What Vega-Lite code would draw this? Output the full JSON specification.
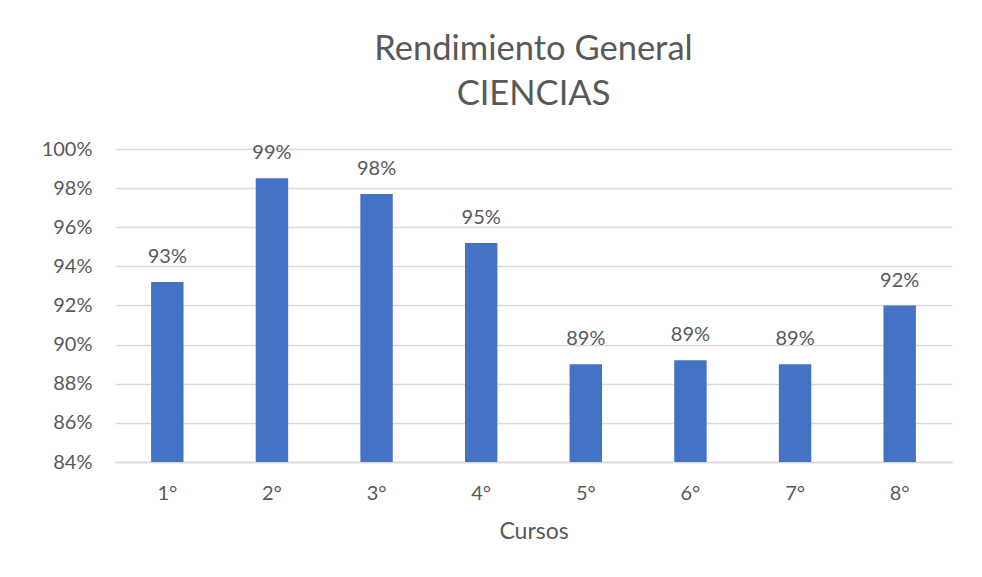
{
  "$schema": "https://vega.github.io/schema/vega-lite/v6.json",
  "autosize": "none",
  "width": 837,
  "height": 313,
  "padding": {"left": 115, "top": 149, "right": 30, "bottom": 115},
  "background": "white",
  "config": {
    "view": {"stroke": null},
    "font": "Lato"
  },
  "title": {
    "text": ["Rendimiento General", "CIENCIAS"],
    "fontSize": 34.5,
    "fontWeight": "normal",
    "color": "#595959",
    "font": "Lato",
    "anchor": "middle",
    "lineHeight": 45,
    "offset": 27
  },
  "data": {
    "values": [
      {"curso": "1°", "valor": 0.932},
      {"curso": "2°", "valor": 0.985},
      {"curso": "3°", "valor": 0.977},
      {"curso": "4°", "valor": 0.952},
      {"curso": "5°", "valor": 0.890},
      {"curso": "6°", "valor": 0.892},
      {"curso": "7°", "valor": 0.890},
      {"curso": "8°", "valor": 0.920}
    ]
  },
  "encoding": {
    "x": {
      "field": "curso",
      "type": "nominal",
      "sort": null,
      "scale": {"paddingInner": 0.69, "paddingOuter": 0.345},
      "axis": {
        "title": "Cursos",
        "labelAngle": 0,
        "labelFontSize": 20,
        "labelColor": "#595959",
        "labelPadding": 21,
        "ticks": false,
        "tickSize": 0,
        "domain": true,
        "domainColor": "#d9d9d9",
        "domainWidth": 1.5,
        "titleFontSize": 23,
        "titleFontWeight": "normal",
        "titleColor": "#595959",
        "titlePadding": 17
      }
    },
    "y": {
      "field": "valor",
      "type": "quantitative",
      "scale": {"domain": [0.84, 1.0], "nice": false, "zero": false},
      "axis": {
        "title": null,
        "format": ".0%",
        "values": [0.84, 0.86, 0.88, 0.90, 0.92, 0.94, 0.96, 0.98, 1.0],
        "labelFontSize": 20,
        "labelColor": "#595959",
        "labelPadding": 23,
        "ticks": false,
        "tickSize": 0,
        "domain": false,
        "grid": true,
        "gridColor": "#d9d9d9",
        "gridWidth": 1.5
      }
    }
  },
  "layer": [
    {
      "mark": {"type": "bar", "color": "#4472C4", "clip": true}
    },
    {
      "mark": {"type": "text", "baseline": "alphabetic", "dy": -19, "fontSize": 20, "color": "#595959", "font": "Lato"},
      "encoding": {
        "text": {"field": "valor", "type": "quantitative", "format": ".0%"}
      }
    }
  ]
}
